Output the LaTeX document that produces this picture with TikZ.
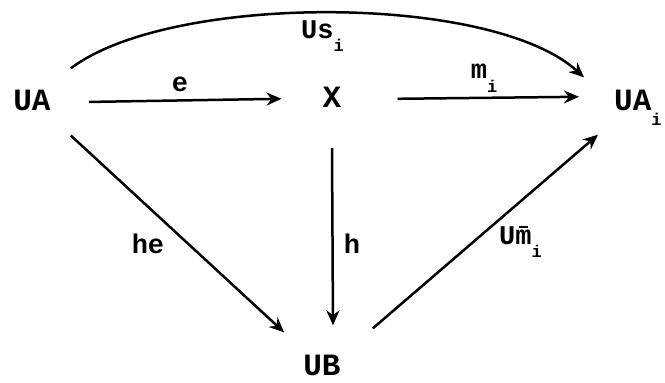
\documentclass[tikz,border=0pt]{standalone}
\usepackage{fontspec}
\setmonofont{Liberation Mono}
\usetikzlibrary{arrows.meta,positioning}
\newcommand{\sub}[1]{\raisebox{-0.5em}{\fontsize{17}{17}\selectfont #1}}
\newcommand{\barm}{\makebox[0pt][l]{\raisebox{0.62em}{\kern0.12em\rule{0.36em}{1.6pt}}}m}

\begin{document}
\begin{tikzpicture}[
            x=1pt,
            y=-1pt,
            every node/.style={
                    inner sep=1pt,
                    font=\ttfamily\bfseries
                },
            obj/.style={
                    font=\fontsize{31}{31}\selectfont\ttfamily\bfseries
                },
            lbl/.style={
                    font=\fontsize{27}{27}\selectfont\ttfamily\bfseries
                },
            map/.style={
                    draw=black,
                    line width=2.5pt,
                    -{Stealth[length=15pt,width=13pt]}
                }
        ]
        \useasboundingbox (0,0) rectangle (665,383);

        % objects
        \node[obj, anchor=base] (UA) at (32,110) {UA};
        \node[obj, anchor=base] (X) at (332,107) {X};
        \node[obj, anchor=base west] (UAi) at (613,110) {UA\sub{i}};
        \node[obj, anchor=base] (UB) at (322,375) {UB};

        % labels
        \node[lbl] (e) at (180,84) {e};
        \node[lbl] (mi) at (484,78) {m\sub{i}};
        \node[lbl, anchor=base west] (Usi) at (300,38) {Us\sub{i}};
        \node[lbl] (he) at (148,244) {he};
        \node[lbl] (h) at (352,244) {h};
        \node[lbl, anchor=west] (Umi) at (498,242) {U\barm\sub{i}};

        % maps
        \draw[map] ([xshift=37pt,yshift=-2pt]UA.east) -- ([xshift=-40pt,yshift=-2pt]X.west);
        \draw[map] ([xshift=55pt,yshift=-2pt]X.east) -- ([xshift=-34pt]UAi.west |- X.east);
        \draw[map] ([xshift=19pt,yshift=20pt]UA.north east)
            .. controls (170,-7) and (492,-7) .. ([xshift=-29pt,yshift=11pt]UAi.north west);
        \draw[map] ([xshift=19pt,yshift=-24pt]UA.south east) -- ([xshift=-18pt,yshift=21pt]UB.north west);
        \draw[map] ([yshift=-40pt]X.south) -- ([xshift=11pt,yshift=28pt]UB.north);
        \draw[map] ([xshift=31pt,yshift=25pt]UB.north east) -- ([xshift=-15pt,yshift=-8pt]UAi.south west);
    \end{tikzpicture}
\end{document}
